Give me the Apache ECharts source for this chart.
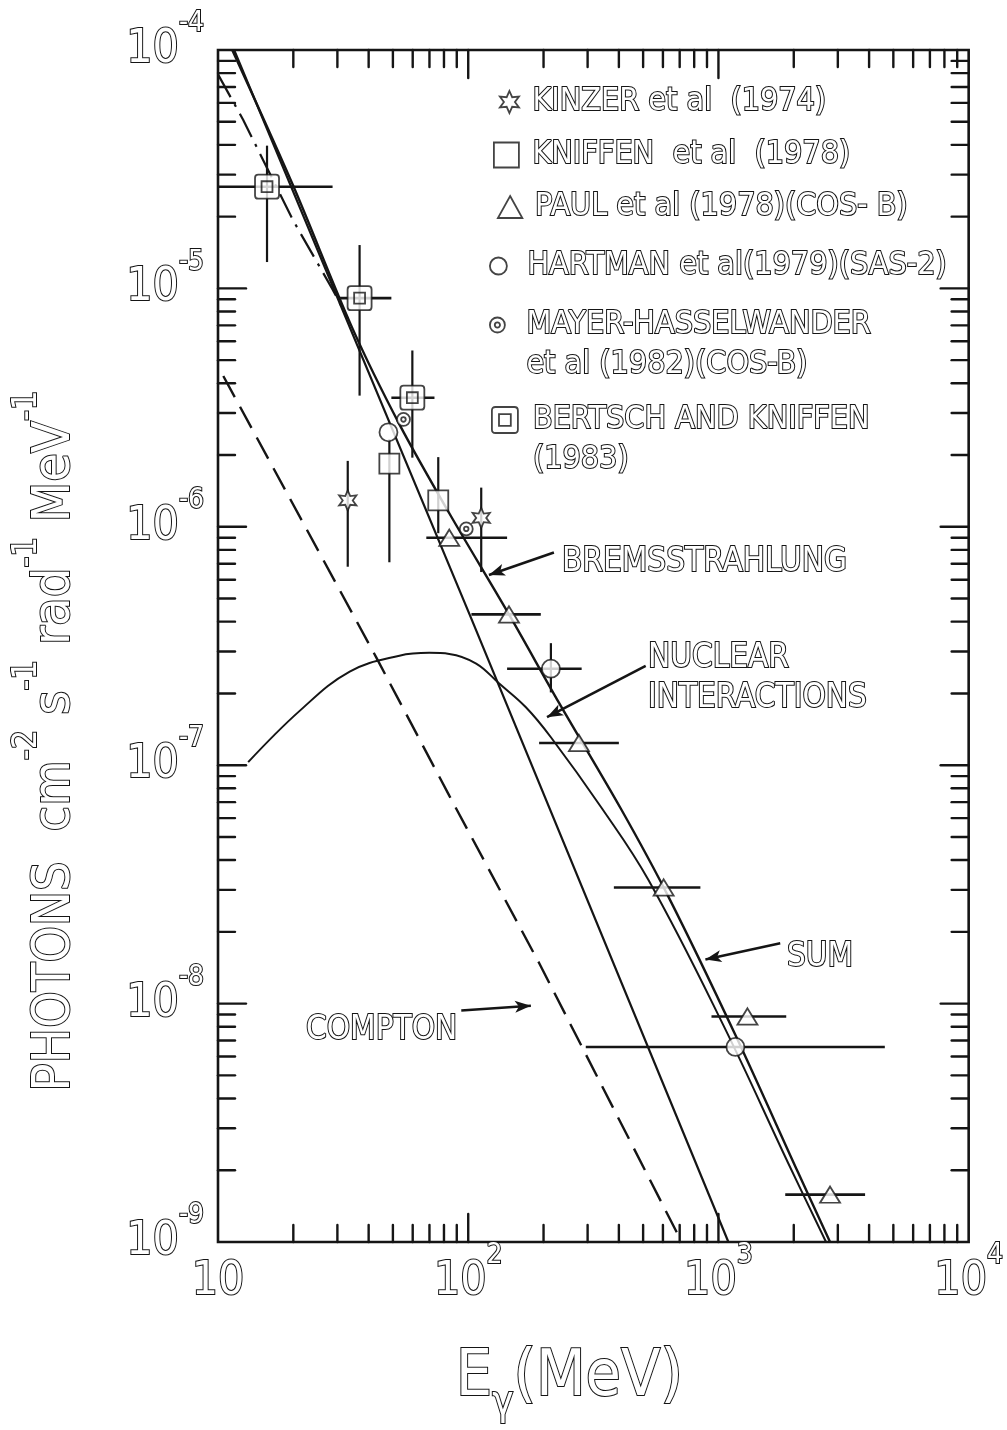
<!DOCTYPE html>
<html>
<head>
<meta charset="utf-8">
<title>Galactic gamma-ray spectrum</title>
<script src="https://cdn.jsdelivr.net/npm/echarts@6/dist/echarts.min.js"></script>
<style>
html,body{margin:0;padding:0;background:#fff;}
#chart{width:1007px;height:1430px;}
</style>
</head>
<body>
<div id="chart"></div>
<script>
// ---------------- axis tick values ----------------
const xMajorTicks = [10, 100, 1000, 10000];
const xMinorTicks = [20, 30, 40, 50, 60, 70, 80, 90, 200, 300, 400, 500, 600, 700, 800, 900,
                     2000, 3000, 4000, 5000, 6000, 7000, 8000, 9000];
const yMajorTicks = [1e-9, 1e-8, 1e-7, 1e-6, 1e-5, 1e-4];
const yMinorMantissas = [2, 3, 4, 5, 6, 7, 8, 9];
const yMinorDecades = [1e-9, 1e-8, 1e-7, 1e-6, 1e-5];

// ---------------- model curves (E in MeV, flux) ----------------
const sumE   = [11.4, 19.9, 34.5, 53.1, 84, 145.5, 231, 407, 633, 1169, 2084, 2793];
const sumF   = [1.0e-4, 2.72e-5, 6.78e-6, 2.69e-6, 1.14e-6, 4.29e-7, 1.82e-7, 6.58e-8, 2.79e-8, 7.38e-9, 1.95e-9, 1.0e-9];
const bremsE = [11.6, 102.8, 1096];
const bremsF = [1.0e-4, 4.13e-7, 1.0e-9];
const nuclE  = [13.2, 21.2, 33.6, 53.1, 69.9, 84, 107.6, 133, 170, 214, 342, 526, 1047, 1901, 2692];
const nuclF  = [1.03e-7, 1.69e-7, 2.47e-7, 2.88e-7, 2.96e-7, 2.93e-7, 2.67e-7, 2.20e-7, 1.75e-7, 1.31e-7, 6.6e-8, 3.29e-8, 8.1e-9, 2.14e-9, 1.0e-9];
const comptE = [10.5, 43, 84, 192, 713];
const comptF = [4.29e-6, 2.82e-7, 7.45e-8, 1.48e-8, 1.0e-9];
const altE   = [10, 12.6, 19.9, 28.7, 33.0];
const altF   = [7.9e-5, 5.1e-5, 1.94e-5, 9.9e-6, 7.5e-6];

// ---------------- measurements ----------------
const kinzerE   = [33.0, 112.7];
const kinzerF   = [1.29e-6, 1.09e-6];
const kinzerFlo = [6.8e-7, 6.46e-7];
const kinzerFhi = [1.89e-6, 1.46e-6];

const kniffenE   = [48.4, 75.9];
const kniffenF   = [1.84e-6, 1.29e-6];
const kniffenFlo = [7.1e-7, 9.4e-7];
const kniffenFhi = [2.33e-6, 1.96e-6];

const paulE   = [84, 145.5, 277, 604, 1306, 2793];
const paulF   = [9.0e-7, 4.29e-7, 1.24e-7, 3.07e-8, 8.83e-9, 1.58e-9];
const paulElo = [68, 103, 192, 382, 938, 1849];
const paulEhi = [143, 195, 400, 847, 1866, 3855];

const hartmanE   = [48.0, 214, 1169];
const hartmanF   = [2.49e-6, 2.54e-7, 6.58e-9];
const hartmanElo = [null, 143, 295];
const hartmanEhi = [null, 284, 4623];
const hartmanFlo = [null, 2.02e-7, null];
const hartmanFhi = [null, 3.25e-7, null];

const mayerE = [55.1, 98.2];
const mayerF = [2.82e-6, 9.8e-7];

const bertschE   = [15.7, 36.8, 59.8];
const bertschF   = [2.67e-5, 9.1e-6, 3.48e-6];
const bertschElo = [10, 30.6, 49.3];
const bertschEhi = [28.7, 49.3, 73.3];
const bertschFlo = [1.29e-5, 3.55e-6, 1.95e-6];
const bertschFhi = [3.97e-5, 1.52e-5, 5.49e-6];

// ---------------- names / labels ----------------
const NAME_KINZER  = 'KINZER et al (1974)';
const NAME_KNIFFEN = 'KNIFFEN et al (1978)';
const NAME_PAUL    = 'PAUL et al (1978)(COS-B)';
const NAME_HARTMAN = 'HARTMAN et al (1979)(SAS-2)';
const NAME_MAYER   = 'MAYER-HASSELWANDER et al (1982)(COS-B)';
const NAME_BERTSCH = 'BERTSCH AND KNIFFEN (1983)';
const legendText = {};
legendText[NAME_KINZER]  = 'KINZER et al  (1974)';
legendText[NAME_KNIFFEN] = 'KNIFFEN  et al  (1978)';
legendText[NAME_PAUL]    = 'PAUL et al (1978)(COS- B)';
legendText[NAME_HARTMAN] = 'HARTMAN et al(1979)(SAS-2)';
legendText[NAME_MAYER]   = '\nMAYER-HASSELWANDER\net al (1982)(COS-B)';
legendText[NAME_BERTSCH] = '\nBERTSCH AND KNIFFEN\n(1983)';

// annotation arrows in data coordinates [from, to]
const bremsArrow   = [[220, 7.8e-7], [121, 6.28e-7]];
const nuclArrow    = [[512, 2.61e-7], [206.5, 1.59e-7]];
const sumArrow     = [[1766, 1.79e-8], [887, 1.53e-8]];
const comptArrow   = [[93.8, 9.35e-9], [178, 9.8e-9]];

// ---------------- style ----------------
const INK = '#151515';
const FONT = "'Liberation Sans Narrow','DejaVu Sans Condensed','Liberation Sans',sans-serif";
const hollow = { color: '#fff', textBorderColor: INK, textBorderWidth: 2 };

const STAR = 'M10 0 L12.5 5.67 L18.66 5 L15 10 L18.66 15 L12.5 14.33 L10 20 L7.5 14.33 L1.34 15 L5 10 L1.34 5 L7.5 5.67 Z';
const SQUARE = 'M0 0 H20 V20 H0 Z';
const TRI = 'M10 0 L20 18 L0 18 Z';
const CIRC = 'M10 0 A10 10 0 1 1 9.99 0 Z';
const DOTCIRC = 'M10 0 A10 10 0 1 1 9.99 0 Z M10 6.5 A3.5 3.5 0 1 1 9.99 6.5 Z';
const RSQ = 'M3 0 H19 Q22 0 22 3 V19 Q22 22 19 22 H3 Q0 22 0 19 V3 Q0 0 3 0 Z M6 6 H16 V16 H6 Z';

const zip = (a, b) => a.map((v, i) => [v, b[i]]);
const opt = v => (v === null || v === undefined) ? '-' : v;

const markerStyle = { color: '#fff', borderColor: INK, borderWidth: 1.8 };

function renderTicks(params, api) {
  const cs = params.coordSys;
  const L = cs.x, R = cs.x + cs.width, T = cs.y, B = cs.y + cs.height;
  const kids = [];
  const seg = (x1, y1, x2, y2) => kids.push({ type: 'line', shape: { x1, y1, x2, y2 },
      style: { stroke: INK, lineWidth: 2.4, lineCap: 'round' } });
  const xs = (v, len) => { const x = api.coord([v, 1e-6])[0]; seg(x, B, x, B - len); seg(x, T, x, T + len); };
  const ys = (v, len) => { const y = api.coord([100, v])[1]; seg(L, y, L + len, y); seg(R, y, R - len, y); };
  xMinorTicks.forEach(v => xs(v, 17));
  xMajorTicks.slice(1, -1).forEach(v => xs(v, 28));
  yMinorDecades.forEach(d => yMinorMantissas.forEach(m => ys(m * d, 17)));
  yMajorTicks.slice(1, -1).forEach(v => ys(v, 28));
  return { type: 'group', children: kids };
}

function errorBars(name, E, F, Elo, Ehi, Flo, Fhi) {
  const rows = E.map((e, i) => [e, F[i],
    opt(Elo && Elo[i]), opt(Ehi && Ehi[i]), opt(Flo && Flo[i]), opt(Fhi && Fhi[i])]);
  return {
    name, type: 'custom', z: 3, silent: true,
    encode: { x: 0, y: 1 },
    data: rows,
    renderItem(params, api) {
      const f = api.value(1), e = api.value(0);
      const elo = api.value(2), ehi = api.value(3), flo = api.value(4), fhi = api.value(5);
      const kids = [];
      if (isFinite(elo) && isFinite(ehi)) {
        const a = api.coord([elo, f]), b = api.coord([ehi, f]);
        kids.push({ type: 'line', shape: { x1: a[0], y1: a[1], x2: b[0], y2: b[1] },
          style: { stroke: INK, lineWidth: 2.6 } });
      }
      if (isFinite(flo) && isFinite(fhi)) {
        const a = api.coord([e, flo]), b = api.coord([e, fhi]);
        kids.push({ type: 'line', shape: { x1: a[0], y1: a[1], x2: b[0], y2: b[1] },
          style: { stroke: INK, lineWidth: 2.2 } });
      }
      return { type: 'group', children: kids };
    }
  };
}

function curve(name, E, F, extra) {
  return Object.assign({
    name, type: 'line', z: 2, symbol: 'none', silent: true, clip: true,
    emphasis: { disabled: true },
    lineStyle: { color: INK, width: 2.2 },
    data: zip(E, F)
  }, extra || {});
}

function arrow(pair) {
  return {
    silent: true, symbol: ['none', 'arrow'], symbolSize: [9, 16], animation: false,
    lineStyle: { color: INK, width: 2.6, type: 'solid' },
    label: { show: false }, emphasis: { disabled: true },
    data: [[{ coord: pair[0] }, { coord: pair[1] }]]
  };
}

function scatter(name, E, F, symbol, size) {
  return {
    name, type: 'scatter', z: 4, silent: true,
    symbol: 'path://' + symbol, symbolSize: size, symbolKeepAspect: true,
    itemStyle: markerStyle, emphasis: { disabled: true },
    data: zip(E, F)
  };
}

// legend entries: icon centre (cx, cy), text start x, icon size
const legendItems = [
  { name: NAME_KINZER,  icon: STAR,    size: 22, cx: 517, cy: 102, tx: 540, lines: 1 },
  { name: NAME_KNIFFEN, icon: SQUARE,  size: 25, cx: 514, cy: 155, tx: 540, lines: 1 },
  { name: NAME_PAUL,    icon: TRI,     size: 22, cx: 517, cy: 207, tx: 542, lines: 1 },
  { name: NAME_HARTMAN, icon: CIRC,    size: 17, cx: 513, cy: 266, tx: 542, lines: 1 },
  { name: NAME_MAYER,   icon: DOTCIRC, size: 15, cx: 513, cy: 325, tx: 542, lines: 3 },
  { name: NAME_BERTSCH, icon: RSQ,     size: 26, cx: 514, cy: 420, tx: 542, lines: 3 }
];
const LH = 40;

const tickRich = {
  b: Object.assign({ fontFamily: FONT, fontSize: 46, lineHeight: 80, verticalAlign: 'middle' }, hollow),
  s: Object.assign({ fontFamily: FONT, fontSize: 28, verticalAlign: 'top' }, hollow)
};
const expLabel = v => {
  const p = Math.round(Math.log10(v));
  return p === 1 ? '{b|10}' : '{b|10}{s|' + p + '}';
};

const annotations = [
  { text: 'BREMSSTRAHLUNG', x: 562, y: 562 },
  { text: 'NUCLEAR', x: 648, y: 658 },
  { text: 'INTERACTIONS', x: 648, y: 698 },
  { text: 'SUM', x: 787, y: 957 },
  { text: 'COMPTON', x: 306, y: 1030 }
];

const chart = echarts.init(document.getElementById('chart'), null, { renderer: 'canvas' });
chart.setOption({
  animation: false,
  backgroundColor: '#fff',
  grid: { left: 218, top: 50, right: 37, bottom: 170, show: true, borderColor: INK, borderWidth: 2.6, backgroundColor: 'transparent' },
  xAxis: {
    type: 'log', logBase: 10, min: 10, max: 10000,
    axisLine: { show: false }, axisTick: { show: false }, splitLine: { show: false },
    axisLabel: { margin: 0, formatter: expLabel, rich: tickRich, showMinLabel: true, showMaxLabel: true },
    name: '{e|E}{g|γ}{m|(MeV)}', nameLocation: 'middle', nameGap: 98,
    nameTextStyle: {
      padding: [0, 48, 0, 0],
      rich: {
        e: Object.assign({ fontFamily: FONT, fontSize: 64, lineHeight: 70, verticalAlign: 'bottom' }, hollow),
        g: Object.assign({ fontFamily: FONT, fontSize: 40, lineHeight: 40, verticalAlign: 'bottom', padding: [0, 0, -14, 0] }, hollow),
        m: Object.assign({ fontFamily: FONT, fontSize: 64, lineHeight: 70, verticalAlign: 'bottom' }, hollow)
      }
    }
  },
  yAxis: {
    type: 'log', logBase: 10, min: 1e-9, max: 1e-4,
    axisLine: { show: false }, axisTick: { show: false }, splitLine: { show: false },
    axisLabel: { margin: 14, formatter: expLabel, rich: tickRich, showMinLabel: true, showMaxLabel: true },
    name: '{b|PHOTONS  cm}{s|-2}{b| s}{s|-1}{b| rad}{s|-1}{b| MeV}{s|-1}',
    nameLocation: 'middle', nameRotate: 90, nameGap: 118,
    nameTextStyle: {
      padding: [0, 190, 0, 0],
      rich: {
        b: Object.assign({ fontFamily: FONT, fontSize: 52, lineHeight: 90, verticalAlign: 'middle' }, hollow),
        s: Object.assign({ fontFamily: FONT, fontSize: 34, verticalAlign: 'top' }, hollow)
      }
    }
  },
  legend: legendItems.map(it => {
    const w = 2 * (it.tx - 5 - it.cx);
    return {
      data: [{ name: it.name, icon: 'path://' + it.icon }],
      left: it.cx - w / 2,
      top: it.cy - it.lines * LH / 2,
      padding: 0, itemWidth: w, itemHeight: it.size, symbolKeepAspect: true,
      itemStyle: { color: '#fff', borderColor: INK, borderWidth: 1.8 },
      formatter: n => legendText[n],
      textStyle: Object.assign({ fontFamily: FONT, fontSize: 32, lineHeight: LH }, hollow)
    };
  }),
  graphic: annotations.map(a => ({
    type: 'text', x: a.x, y: a.y, silent: true,
    style: { text: a.text, fontFamily: FONT, fontSize: 33, fill: '#fff', stroke: INK, lineWidth: 2,
             align: 'left', verticalAlign: 'middle' }
  })),
  series: [
    { name: 'ticks', type: 'custom', z: 1, silent: true, encode: { x: 0, y: 1 },
      data: [[100, 1e-6]], renderItem: renderTicks },
    scatter(NAME_KINZER, kinzerE, kinzerF, STAR, 20),
    scatter(NAME_KNIFFEN, kniffenE, kniffenF, SQUARE, 20),
    scatter(NAME_PAUL, paulE, paulF, TRI, [20, 18]),
    scatter(NAME_HARTMAN, hartmanE, hartmanF, CIRC, 18),
    scatter(NAME_MAYER, mayerE, mayerF, DOTCIRC, 13),
    scatter(NAME_BERTSCH, bertschE, bertschF, RSQ, 24),
    curve('Sum', sumE, sumF, { smooth: 0.3, lineStyle: { color: INK, width: 2.4 }, markLine: arrow(sumArrow) }),
    curve('Bremsstrahlung', bremsE, bremsF, { lineStyle: { color: INK, width: 2.2 }, markLine: arrow(bremsArrow) }),
    curve('Nuclear interactions', nuclE, nuclF, { smooth: 0.4, lineStyle: { color: INK, width: 2.0 }, markLine: arrow(nuclArrow) }),
    curve('Compton', comptE, comptF, { lineStyle: { color: INK, width: 2.4, type: [24, 11] }, markLine: arrow(comptArrow) }),
    curve('Alternative', altE, altF, { lineStyle: { color: INK, width: 2.2, type: [26, 8, 3, 8] } }),
    errorBars(NAME_KINZER, kinzerE, kinzerF, null, null, kinzerFlo, kinzerFhi),
    errorBars(NAME_KNIFFEN, kniffenE, kniffenF, null, null, kniffenFlo, kniffenFhi),
    errorBars(NAME_PAUL, paulE, paulF, paulElo, paulEhi, null, null),
    errorBars(NAME_HARTMAN, hartmanE, hartmanF, hartmanElo, hartmanEhi, hartmanFlo, hartmanFhi),
    errorBars(NAME_BERTSCH, bertschE, bertschF, bertschElo, bertschEhi, bertschFlo, bertschFhi)
  ]
});
</script>
</body>
</html>
